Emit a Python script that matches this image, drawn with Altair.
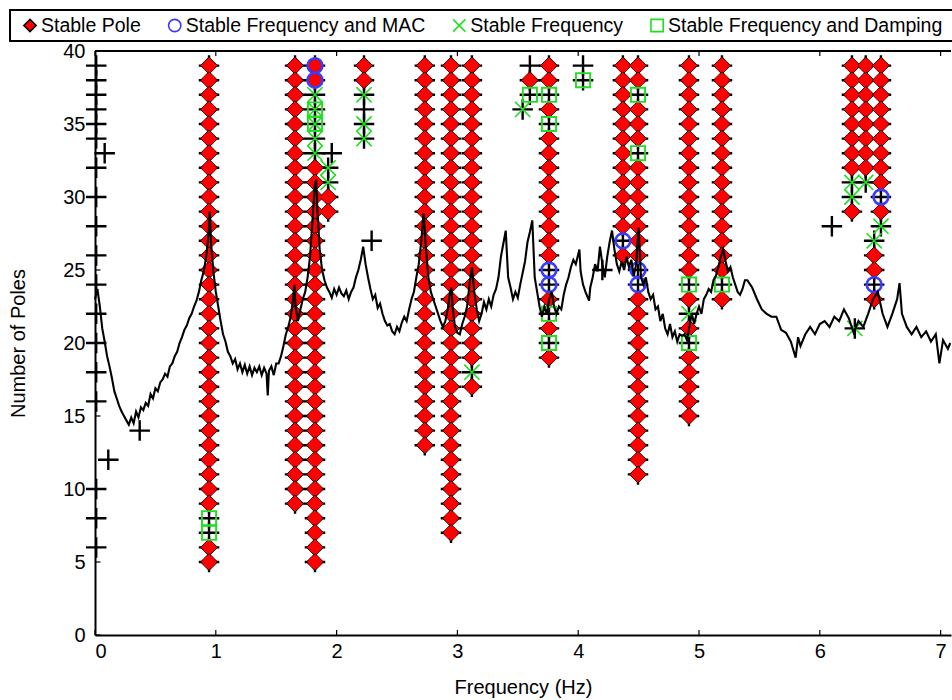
import altair as alt
import pandas as pd

# ---------------- data ----------------
# background spectrum (black line), frequency in Hz and level in "pole" units
spec_f = [0.00, 0.02, 0.04, 0.06, 0.08, 0.10, 0.12, 0.14, 0.16, 0.18, 0.20, 0.22, 0.24, 0.26, 0.28,
          0.30, 0.32, 0.34, 0.36, 0.38, 0.40, 0.42, 0.44, 0.46, 0.48, 0.50, 0.52, 0.54, 0.56, 0.58,
          0.60, 0.62, 0.64, 0.66, 0.68, 0.70, 0.72, 0.74, 0.76, 0.78, 0.80, 0.82, 0.84, 0.86, 0.88,
          0.90, 0.92, 0.94, 0.95, 0.96, 0.98, 1.00, 1.02, 1.04, 1.06, 1.08, 1.10, 1.12, 1.14, 1.16,
          1.18, 1.20, 1.22, 1.24, 1.26, 1.28, 1.30, 1.32, 1.34, 1.36, 1.38, 1.40, 1.42, 1.43, 1.44,
          1.46, 1.48, 1.50, 1.52, 1.54, 1.56, 1.58, 1.60, 1.62, 1.64, 1.65, 1.66, 1.68, 1.70, 1.72,
          1.74, 1.76, 1.78, 1.80, 1.82, 1.83, 1.84, 1.86, 1.88, 1.90, 1.92, 1.94, 1.96, 1.98, 2.00,
          2.02, 2.04, 2.06, 2.08, 2.10, 2.12, 2.14, 2.16, 2.18, 2.20, 2.22, 2.24, 2.26, 2.28, 2.30,
          2.32, 2.34, 2.36, 2.38, 2.40, 2.42, 2.44, 2.46, 2.48, 2.50, 2.52, 2.54, 2.56, 2.58, 2.60,
          2.62, 2.64, 2.66, 2.68, 2.70, 2.72, 2.74, 2.76, 2.78, 2.80, 2.82, 2.84, 2.86, 2.88, 2.90,
          2.92, 2.94, 2.95, 2.96, 2.98, 3.00, 3.02, 3.04, 3.06, 3.08, 3.10, 3.12, 3.14, 3.16, 3.18,
          3.20, 3.22, 3.24, 3.26, 3.28, 3.30, 3.32, 3.34, 3.36, 3.38, 3.40, 3.42, 3.44, 3.46, 3.48,
          3.50, 3.52, 3.54, 3.56, 3.58, 3.60, 3.62, 3.64, 3.66, 3.68, 3.70, 3.72, 3.74, 3.76, 3.78,
          3.80, 3.82, 3.84, 3.86, 3.88, 3.90, 3.92, 3.94, 3.96, 3.98, 4.01, 4.02, 4.04, 4.06, 4.09,
          4.10, 4.12, 4.14, 4.16, 4.18, 4.20, 4.22, 4.24, 4.26, 4.28, 4.30, 4.32, 4.34, 4.36, 4.38,
          4.40, 4.42, 4.44, 4.46, 4.48, 4.50, 4.52, 4.54, 4.56, 4.58, 4.60, 4.62, 4.64, 4.66, 4.68,
          4.70, 4.72, 4.74, 4.76, 4.78, 4.80, 4.82, 4.84, 4.86, 4.88, 4.90, 4.92, 4.94, 4.96, 4.98,
          5.00, 5.02, 5.04, 5.06, 5.08, 5.10, 5.12, 5.14, 5.16, 5.18, 5.20, 5.22, 5.24, 5.26, 5.28,
          5.30, 5.32, 5.34, 5.36, 5.38, 5.40, 5.44, 5.48, 5.52, 5.56, 5.60, 5.64, 5.68, 5.72, 5.76,
          5.80, 5.82, 5.84, 5.88, 5.92, 5.96, 6.00, 6.04, 6.08, 6.12, 6.16, 6.20, 6.24, 6.28, 6.30,
          6.32, 6.36, 6.40, 6.44, 6.48, 6.52, 6.56, 6.60, 6.64, 6.66, 6.68, 6.72, 6.76, 6.80, 6.84,
          6.88, 6.92, 6.96, 6.99, 7.02, 7.06, 7.08]
spec_n = [23.0, 23.7, 22.5, 21.0, 20.1, 19.1, 18.4, 17.6, 16.7, 16.2, 15.7, 15.3, 15.0, 14.7, 14.4,
          14.9, 14.5, 15.3, 14.9, 15.6, 15.4, 15.9, 15.7, 16.5, 16.2, 16.9, 16.7, 17.3, 17.5, 17.9,
          17.7, 18.4, 18.6, 19.1, 19.4, 20.0, 20.4, 20.9, 21.2, 21.7, 22.0, 22.5, 22.9, 23.5, 24.3,
          24.9, 25.9, 27.4, 29.0, 26.9, 24.9, 23.5, 22.5, 21.5, 20.6, 20.1, 19.4, 19.1, 18.6, 18.9,
          18.2, 18.6, 18.0, 18.5, 17.9, 18.4, 17.8, 18.3, 18.0, 18.4, 17.8, 18.3, 17.9, 16.4, 18.1,
          18.4, 17.8, 18.6, 18.6, 19.1, 19.8, 20.6, 21.1, 21.8, 23.0, 24.0, 22.5, 21.5, 22.3, 23.0,
          23.5, 24.5, 25.9, 28.4, 30.8, 31.2, 29.3, 26.4, 25.0, 24.3, 23.8, 23.5, 23.1, 23.7, 23.3,
          23.8, 23.4, 23.2, 23.6, 23.0, 23.5, 23.8, 24.5, 25.0, 25.7, 26.6, 25.4, 24.5, 23.7, 23.0,
          23.3, 22.4, 22.7, 22.0, 21.5, 21.2, 21.3, 20.8, 20.6, 21.1, 20.8, 21.4, 21.8, 21.5, 22.3,
          23.0, 23.5, 24.5, 25.4, 26.9, 28.9, 26.4, 24.5, 23.5, 23.0, 22.5, 22.0, 21.5, 21.1, 21.5,
          22.3, 23.5, 23.8, 22.5, 21.1, 20.7, 20.6, 21.3, 21.8, 22.5, 24.0, 25.2, 23.5, 22.3, 21.5,
          22.0, 22.8, 22.3, 23.0, 22.5, 23.3, 23.7, 24.5, 25.9, 26.8, 27.7, 24.5, 23.8, 23.0, 23.5,
          23.1, 24.0, 24.8, 25.6, 26.9, 27.6, 28.4, 24.5, 23.5, 22.5, 21.8, 22.5, 22.0, 23.0, 23.5,
          22.5, 22.0, 22.5, 22.3, 23.3, 24.0, 24.5, 25.2, 25.7, 25.4, 26.4, 24.9, 24.0, 23.5, 22.9,
          23.8, 24.5, 25.4, 24.9, 26.6, 25.4, 24.5, 25.9, 26.9, 27.7, 26.4, 25.4, 24.9, 25.6, 25.0,
          25.9, 25.2, 25.7, 24.6, 25.4, 27.9, 24.5, 24.0, 24.5, 23.5, 23.0, 23.3, 22.3, 22.5, 21.5,
          22.0, 21.0, 20.6, 21.3, 20.4, 20.8, 20.1, 20.6, 20.5, 20.6, 20.2, 21.1, 22.0, 21.3, 22.0,
          22.5, 22.0, 23.0, 23.3, 23.7, 23.5, 24.3, 24.6, 25.2, 25.9, 26.4, 25.6, 24.9, 25.2, 24.5,
          24.0, 23.5, 23.3, 23.7, 24.3, 24.3, 23.8, 23.0, 22.3, 22.0, 21.8, 21.8, 20.9, 20.7, 20.1,
          19.0, 20.4, 19.8, 20.6, 21.1, 20.6, 21.3, 21.5, 21.1, 21.8, 21.5, 22.3, 21.7, 20.7, 21.1,
          21.5, 21.1, 22.0, 23.0, 23.5, 22.0, 21.1, 22.0, 23.0, 24.1, 22.0, 21.1, 20.6, 21.1, 20.4,
          20.8, 20.1, 20.6, 18.6, 20.2, 19.6, 20.0]

# pole columns: frequency and runs of (highest order, lowest order, code)
# codes: D stable pole, B freq+MAC, X freq, S freq+damping, M pole+MAC, Q damping+freq, P unstable only
col_freq = [0.944, 1.656, 1.821, 1.93, 2.227, 2.73, 2.947, 3.12, 3.60, 3.758,
            4.04, 4.37, 4.495, 4.917, 5.19, 6.266, 6.38, 6.506, 6.45]
col_runs = [
    [(39, 9, "D"), (8, 7, "S"), (6, 5, "D")],
    [(39, 9, "D")],
    [(39, 38, "M"), (37, 37, "X"), (36, 35, "Q"), (34, 33, "X"), (32, 5, "D")],
    [(32, 31, "X"), (30, 29, "D")],
    [(39, 38, "D"), (37, 37, "X"), (36, 36, "P"), (35, 34, "X")],
    [(39, 13, "D")],
    [(39, 7, "D")],
    [(39, 19, "D"), (18, 18, "X"), (17, 17, "D")],
    [(39, 39, "P"), (38, 38, "D"), (37, 37, "S")],
    [(39, 38, "D"), (37, 37, "S"), (36, 36, "D"), (35, 35, "S"), (34, 26, "D"), (25, 24, "B"),
     (23, 23, "D"), (22, 22, "S"), (21, 21, "D"), (20, 20, "S"), (19, 19, "D")],
    [(39, 39, "P"), (38, 38, "S")],
    [(39, 28, "D"), (27, 27, "B"), (26, 26, "D")],
    [(39, 38, "D"), (37, 37, "S"), (36, 34, "D"), (33, 33, "S"), (32, 26, "D"), (25, 24, "B"), (23, 11, "D")],
    [(39, 25, "D"), (24, 24, "S"), (23, 23, "D"), (22, 22, "X"), (21, 21, "D"), (20, 20, "S"), (19, 15, "D")],
    [(39, 25, "D"), (24, 24, "S"), (23, 23, "D")],
    [(39, 32, "D"), (31, 30, "X"), (29, 29, "D")],
    [(39, 32, "D"), (31, 31, "X")],
    [(39, 31, "D"), (30, 30, "B"), (29, 29, "D"), (28, 28, "X")],
    [(27, 27, "X"), (26, 25, "D"), (24, 24, "B"), (23, 23, "D")],
]
# isolated stable-frequency poles
extra_f = [3.54, 6.29]
extra_n = [36, 21]
# unstable poles (black crosses only)
unstable_f = [0.01, 0.01, 0.01, 0.01, 0.01, 0.01, 0.01, 0.01, 0.01, 0.01, 0.01, 0.01, 0.01,
              0.01, 0.01, 0.01, 0.01, 0.01, 0.08, 0.11, 0.37, 1.96, 2.29, 4.20, 6.10]
unstable_n = [39, 38, 37, 36, 35, 34, 32, 30, 28, 26, 24, 22, 20,
              18, 16, 10, 8, 6, 33, 12, 14, 33, 27, 25, 28]

kinds = ["Stable Pole", "Stable Frequency and MAC", "Stable Frequency", "Stable Frequency and Damping"]
x_ticks = [0, 1, 2, 3, 4, 5, 6, 7]
y_ticks = [0, 5, 10, 15, 20, 25, 30, 35, 40]
X_MAX = 7.086
Y_MAX = 40

# ---------------- layout constants ----------------
W, H = 856, 584
FONT = "Liberation Sans"
FS = 20
LFS = 19.5
PX_F = W / X_MAX          # pixels per Hz
PX_N = H / Y_MAX          # pixels per pole order

# ---------------- tables ----------------
code_kinds = {"D": [0], "B": [1], "X": [2], "S": [3], "M": [0, 1], "Q": [3, 2], "P": []}
plus_rows, mark_rows = [], []
for f, runs in zip(col_freq, col_runs):
    for hi, lo, code in runs:
        for n in range(hi, lo - 1, -1):
            plus_rows.append({"f": f, "n": n})
            for k in code_kinds[code]:
                mark_rows.append({"f": f, "n": n, "kind": kinds[k], "z": 0 if k == 0 else 1})
for f, n in zip(extra_f, extra_n):
    plus_rows.append({"f": f, "n": n})
    mark_rows.append({"f": f, "n": n, "kind": kinds[2], "z": 1})
for f, n in zip(unstable_f, unstable_n):
    plus_rows.append({"f": f, "n": n})

plus_df = pd.DataFrame(plus_rows)
mark_df = pd.DataFrame(mark_rows)
spec_df = pd.DataFrame({"f": spec_f, "n": spec_n})
xt_df = pd.DataFrame({"t": x_ticks})
yt_df = pd.DataFrame({"t": y_ticks})
one_df = pd.DataFrame({"a": [0]})

# legend layout (horizontal row above the plot), computed from label widths (Arial metrics)
AW = {"S": .667, "t": .278, "a": .556, "b": .556, "l": .222, "e": .556, " ": .278, "P": .667,
      "o": .556, "F": .611, "r": .333, "q": .556, "u": .556, "n": .556, "c": .5, "y": .5,
      "d": .556, "M": .833, "A": .667, "C": .722, "D": .722, "m": .833, "p": .556, "i": .222,
      "g": .556}
box_left_px, box_top_px, box_bot_px = -85, -41, -10
sym_px = box_left_px + 20
leg_rows = []
for k in kinds:
    txt_px = sym_px + 11
    leg_rows.append({"kind": k, "sx": sym_px / PX_F, "tx": txt_px / PX_F,
                     "ly": Y_MAX - ((box_top_px + box_bot_px) / 2) / PX_N})
    sym_px = txt_px + sum(AW.get(c, .556) for c in k) * LFS + 34
leg_df = pd.DataFrame(leg_rows)
box_df = pd.DataFrame({"x0": [box_left_px / PX_F], "x1": [(W + 20) / PX_F],
                       "y0": [Y_MAX - box_top_px / PX_N], "y1": [Y_MAX - box_bot_px / PX_N]})

xscale = alt.Scale(domain=[0, X_MAX], nice=False, zero=False)
yscale = alt.Scale(domain=[0, Y_MAX], nice=False, zero=False)
xaxis = alt.Axis(values=x_ticks, title="Frequency (Hz)", ticks=False, labelPadding=6,
                 titlePadding=16, format="d")
yaxis = alt.Axis(values=y_ticks, title="Number of Poles", ticks=False, labelPadding=10,
                 titlePadding=34, format="d")

PLUS = "M-1,0L1,0M0,-1L0,1"
XSHAPE = "M-1,-1L1,1M-1,1L1,-1"
shape_enc = alt.Shape("kind:N", scale=alt.Scale(domain=kinds, range=["diamond", "circle", XSHAPE, "square"]),
                      legend=None)
fill_enc = alt.Fill("kind:N", scale=alt.Scale(domain=kinds, range=["#ff0000", "transparent", "transparent", "transparent"]),
                    legend=None)
stroke_enc = alt.Stroke("kind:N", scale=alt.Scale(domain=kinds, range=["#000000", "#3b3bff", "#1fe01f", "#1fe01f"]),
                        legend=None)

plus_layer = alt.Chart(plus_df).mark_point(
    shape=PLUS, size=420, stroke="black", strokeWidth=2.4, filled=False, opacity=1
).encode(
    x=alt.X("f:Q", scale=xscale, axis=xaxis),
    y=alt.Y("n:Q", scale=yscale, axis=yaxis),
)

mark_layer = alt.Chart(mark_df).mark_point(opacity=1).encode(
    x="f:Q",
    y="n:Q",
    shape=shape_enc, fill=fill_enc, stroke=stroke_enc,
    size=alt.Size("kind:N", scale=alt.Scale(domain=kinds, range=[290, 200, 110, 165]), legend=None),
    strokeWidth=alt.StrokeWidth("kind:N", scale=alt.Scale(domain=kinds, range=[1.0, 1.9, 1.6, 1.6]), legend=None),
    order=alt.Order("z:Q"),
)
pole_fill = alt.Chart(mark_df).transform_filter(alt.datum.z == 0).mark_point(
    shape="circle", size=150, fill="#ff0000", filled=True, opacity=1
).encode(x="f:Q", y="n:Q")
mac_cover = alt.Chart(mark_df).transform_filter(alt.datum.kind == kinds[1]).mark_point(
    shape="circle", size=200, filled=False, stroke="#3b3bff", strokeWidth=1.9, opacity=1
).encode(x="f:Q", y="n:Q")

line_layer = alt.Chart(spec_df).mark_line(color="black", strokeWidth=2.1).encode(
    x="f:Q", y="n:Q"
)

tick_bottom = alt.Chart(xt_df).mark_rule(color="black", strokeWidth=1.2).encode(
    x="t:Q", y=alt.datum(0), y2=alt.datum(0.35))
tick_top = alt.Chart(xt_df).mark_rule(color="black", strokeWidth=1.2).encode(
    x="t:Q", y=alt.datum(Y_MAX), y2=alt.datum(Y_MAX - 0.35))
tick_left = alt.Chart(yt_df).mark_rule(color="black", strokeWidth=1.2).encode(
    y="t:Q", x=alt.datum(0), x2=alt.datum(0.045))
top_frame = alt.Chart(one_df).mark_rule(color="black", strokeWidth=1.8).encode(
    x=alt.datum(0), x2=alt.datum(X_MAX), y=alt.datum(Y_MAX))

# legend drawn with the same shape / fill / stroke scales as the plot markers
leg_box = alt.Chart(box_df).mark_rect(fill="white", stroke="black", strokeWidth=2).encode(
    x="x0:Q", x2="x1:Q", y="y0:Q", y2="y1:Q")
leg_sym = alt.Chart(leg_df).mark_point(opacity=1, size=150, strokeWidth=1.6).encode(
    x="sx:Q", y="ly:Q", shape=shape_enc, fill=fill_enc, stroke=stroke_enc)
leg_txt = alt.Chart(leg_df).mark_text(
    align="left", baseline="middle", font=FONT, fontSize=LFS, color="black"
).encode(x="tx:Q", y="ly:Q", text="kind:N")

chart = alt.layer(
    plus_layer, mark_layer, pole_fill, mac_cover, line_layer,
    tick_bottom, tick_top, tick_left, top_frame,
    leg_box, leg_sym, leg_txt
).properties(
    width=W, height=H,
    autosize=alt.AutoSizeParams(type="none"),
    padding={"left": 95, "top": 51, "right": 1, "bottom": 65},
    background="white",
).configure_view(
    stroke=None
).configure_axis(
    domainColor="black", domainWidth=2, grid=False,
    labelFont=FONT, labelFontSize=FS, labelColor="black",
    titleFont=FONT, titleFontSize=FS, titleFontWeight="normal", titleColor="black",
)

chart.save("out.html", embed_options={"renderer": "svg", "actions": False})
